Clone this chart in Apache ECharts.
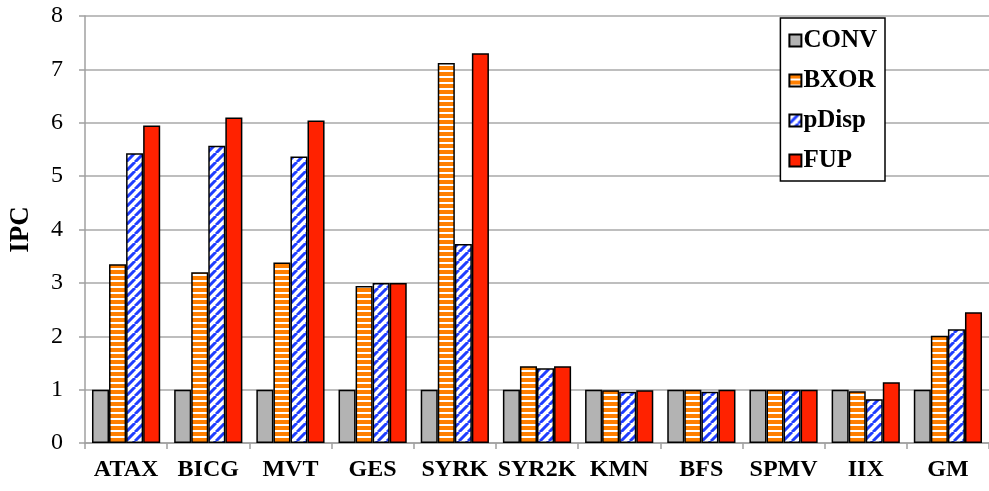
<!DOCTYPE html>
<html>
<head>
<meta charset="utf-8">
<script src="https://cdn.jsdelivr.net/npm/echarts@6/dist/echarts.min.js"></script>
<style>
  html, body { margin: 0; padding: 0; background: #fff; }
  #chart { width: 989px; height: 491px; }
</style>
</head>
<body>
<div id="chart"></div>
<script>
const categories = ['ATAX', 'BICG', 'MVT', 'GES', 'SYRK', 'SYR2K', 'KMN', 'BFS', 'SPMV', 'IIX', 'GM'];
const conv  = [1, 1, 1, 1, 1, 1, 1, 1, 1, 1, 1];
const bxor  = [3.35, 3.2, 3.38, 2.94, 7.12, 1.44, 0.99, 1.0, 1.0, 0.97, 2.01];
const pdisp = [5.43, 5.57, 5.37, 3.0, 3.73, 1.4, 0.96, 0.96, 1.0, 0.82, 2.13];
const fup   = [5.95, 6.1, 6.04, 3.0, 7.3, 1.44, 0.99, 1.0, 1.0, 1.14, 2.45];
const yTicks = [0, 1, 2, 3, 4, 5, 6, 7, 8];

// 横縞パターン (BXOR)
function hStripes() {
  const c = document.createElement('canvas');
  c.width = 6; c.height = 6;
  const g = c.getContext('2d');
  g.fillStyle = '#fff';
  g.fillRect(0, 0, 6, 6);
  g.fillStyle = '#ff7f00';
  g.fillRect(0, 0, 6, 4);
  return c;
}
// 斜線パターン (pDisp)
function dStripes() {
  const s = 9;
  const c = document.createElement('canvas');
  c.width = s; c.height = s;
  const g = c.getContext('2d');
  g.fillStyle = '#fff';
  g.fillRect(0, 0, s, s);
  g.strokeStyle = '#1f3dff';
  g.lineWidth = 3;
  g.beginPath();
  for (let k = -1; k <= 1; k++) {
    g.moveTo(k * s, s);
    g.lineTo(k * s + s, 0);
  }
  g.stroke();
  return c;
}

const font = '"Liberation Serif", "Times New Roman", serif';
const border = { borderColor: '#000', borderWidth: 1.5 };

const chart = echarts.init(document.getElementById('chart'));
chart.setOption({
  animation: false,
  textStyle: { fontFamily: font },
  grid: { left: 81, right: -5, top: 16, bottom: 48, containLabel: false },
  legend: {
    orient: 'vertical',
    right: 104,
    top: 18,
    padding: [10, 8, 8, 8],
    itemGap: 15,
    itemWidth: 12,
    itemHeight: 12,
    icon: 'rect',
    backgroundColor: '#fff',
    borderColor: '#000',
    borderWidth: 1.5,
    textStyle: { fontFamily: font, fontSize: 25, fontWeight: 'bold', color: '#000', padding: [0, 0, 0, -3] },
    data: ['CONV', 'BXOR', 'pDisp', 'FUP']
  },
  xAxis: {
    type: 'category',
    data: categories,
    axisLine: { lineStyle: { color: '#a0a0a0', width: 1.5 } },
    axisTick: { show: true, length: 6, lineStyle: { color: '#a0a0a0', width: 1.5 } },
    axisLabel: { fontFamily: font, fontSize: 24, fontWeight: 'bold', color: '#000', margin: 15, interval: 0 }
  },
  yAxis: {
    type: 'value',
    min: yTicks[0],
    max: yTicks[yTicks.length - 1],
    interval: 1,
    name: 'IPC',
    nameLocation: 'middle',
    nameRotate: 90,
    nameGap: 50,
    nameTextStyle: { fontFamily: font, fontSize: 27, fontWeight: 'bold', color: '#000' },
    axisLine: { show: true, lineStyle: { color: '#a0a0a0', width: 1.5 } },
    axisTick: { show: true, length: 6, lineStyle: { color: '#a0a0a0', width: 1.5 } },
    splitLine: { lineStyle: { color: '#a8a8a8', width: 1.5 } },
    axisLabel: { fontFamily: font, fontSize: 24, color: '#000', margin: 22 }
  },
  series: [
    { name: 'CONV', type: 'bar', data: conv, barGap: '0%', barCategoryGap: '17%',
      itemStyle: Object.assign({ color: '#b3b3b3' }, border) },
    { name: 'BXOR', type: 'bar', data: bxor,
      itemStyle: Object.assign({ color: { image: hStripes(), repeat: 'repeat' } }, border) },
    { name: 'pDisp', type: 'bar', data: pdisp,
      itemStyle: Object.assign({ color: { image: dStripes(), repeat: 'repeat' } }, border) },
    { name: 'FUP', type: 'bar', data: fup,
      itemStyle: Object.assign({ color: '#ff2200' }, border) }
  ]
});
</script>
</body>
</html>
